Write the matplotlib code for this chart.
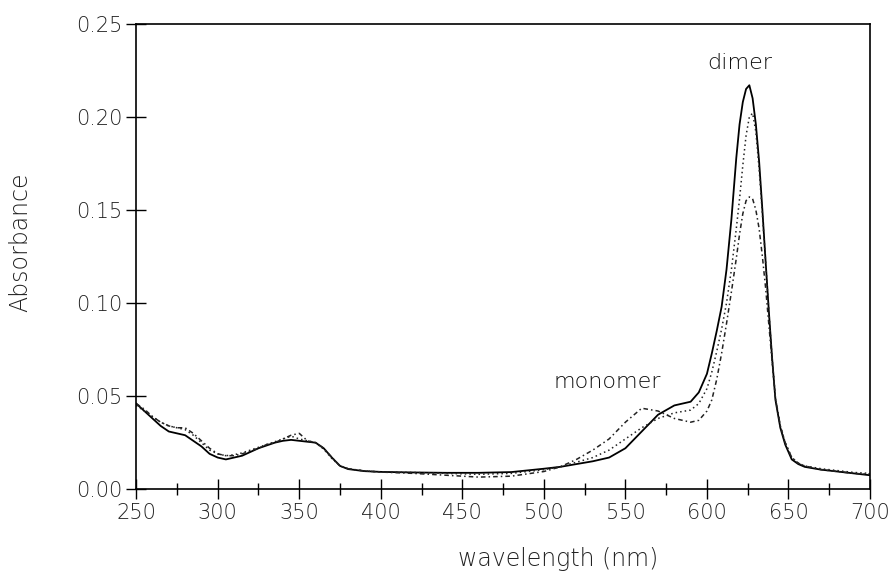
import numpy as np
import matplotlib.pyplot as plt
from matplotlib.ticker import MultipleLocator

# wavelength grid (nm)
wavelength = [250, 255, 260, 265, 270, 275, 280, 285, 290, 295, 300, 305, 310, 315,
              320, 325, 330, 335, 340, 345, 350, 355, 360, 365, 370, 375, 380, 390,
              400, 420, 440, 460, 480, 500, 510, 520, 530, 540, 550, 560, 570, 580,
              590, 595, 600, 603, 606, 609, 612, 615, 618, 620, 622, 624, 626, 628,
              630, 632, 634, 636, 638, 640, 642, 645, 648, 652, 656, 660, 670, 680,
              690, 700]

abs_solid = [0.046, 0.042, 0.038, 0.034, 0.031, 0.030, 0.029, 0.026, 0.023, 0.019,
             0.017, 0.016, 0.017, 0.018, 0.020, 0.022, 0.0235, 0.025, 0.026, 0.0265,
             0.026, 0.0255, 0.025, 0.022, 0.017, 0.0125, 0.0108, 0.0097, 0.0093, 0.009,
             0.0088, 0.0088, 0.0092, 0.011, 0.012, 0.0135, 0.015, 0.017, 0.022, 0.031,
             0.040, 0.045, 0.047, 0.052, 0.062, 0.073, 0.085, 0.098, 0.118, 0.145,
             0.178, 0.196, 0.208, 0.215, 0.217, 0.210, 0.196, 0.176, 0.150, 0.122,
             0.095, 0.070, 0.048, 0.033, 0.024, 0.016, 0.0135, 0.012, 0.0105, 0.0095,
             0.0085, 0.0075]

abs_dotted = [0.045, 0.042, 0.039, 0.036, 0.034, 0.033, 0.032, 0.029, 0.025, 0.021,
              0.019, 0.018, 0.0185, 0.0195, 0.021, 0.0225, 0.024, 0.0255, 0.027, 0.0285,
              0.027, 0.026, 0.025, 0.0215, 0.0165, 0.0125, 0.011, 0.0098, 0.0093, 0.009,
              0.0085, 0.008, 0.0085, 0.0105, 0.012, 0.0145, 0.017, 0.021, 0.027, 0.033,
              0.038, 0.041, 0.0425, 0.046, 0.054, 0.063, 0.074, 0.086, 0.100, 0.118,
              0.140, 0.156, 0.174, 0.190, 0.200, 0.202, 0.192, 0.172, 0.148, 0.122,
              0.095, 0.070, 0.049, 0.034, 0.025, 0.017, 0.014, 0.0125, 0.011, 0.010,
              0.009, 0.0085]

abs_dashdot = [0.046, 0.043, 0.039, 0.036, 0.034, 0.033, 0.033, 0.030, 0.026, 0.022,
               0.019, 0.018, 0.018, 0.019, 0.0205, 0.022, 0.024, 0.025, 0.027, 0.029,
               0.030, 0.026, 0.025, 0.022, 0.017, 0.0125, 0.011, 0.0098, 0.0092, 0.0085,
               0.0075, 0.0065, 0.007, 0.0095, 0.012, 0.016, 0.021, 0.027, 0.036, 0.0435,
               0.042, 0.038, 0.036, 0.037, 0.042, 0.048, 0.059, 0.073, 0.089, 0.106,
               0.124, 0.137, 0.148, 0.155, 0.157, 0.156, 0.150, 0.140, 0.125, 0.108,
               0.088, 0.068, 0.049, 0.034, 0.025, 0.017, 0.014, 0.0125, 0.0105, 0.0095,
               0.0085, 0.008]

plt.rcParams['font.family'] = ['DejaVu Sans']
plt.rcParams['font.weight'] = 'light'
plt.rcParams['axes.labelweight'] = 'light'

fig = plt.figure(figsize=(8.96, 5.81), dpi=100)
ax = fig.add_axes([0.152, 0.158, 0.819, 0.801])

ax.plot(wavelength, abs_solid, color='black', lw=1.3, ls='-')
ax.plot(wavelength, abs_dotted, color='#222222', lw=1.1, ls=(0, (1, 2)))
ax.plot(wavelength, abs_dashdot, color='#222222', lw=1.1, ls=(0, (3, 2, 1, 2)))

ax.set_xlim(250, 700)
ax.set_ylim(0, 0.25)
ax.xaxis.set_major_locator(MultipleLocator(50))
ax.xaxis.set_minor_locator(MultipleLocator(25))
ax.yaxis.set_major_locator(MultipleLocator(0.05))
ax.yaxis.set_major_formatter(plt.FuncFormatter(lambda v, p: f'{v:.2f}'))

ax.tick_params(which='major', direction='inout', length=14, width=1.0,
               labelsize=15, labelcolor='#222222', pad=3, top=False, right=False)
ax.tick_params(which='minor', direction='inout', length=8, width=1.0,
               top=False, right=False)
for s in ax.spines.values():
    s.set_linewidth(1.2)

ax.set_xlabel('wavelength (nm)', fontsize=17, color='#222222', fontweight='light')
ax.xaxis.set_label_coords(0.575, -0.125)
ax.set_ylabel('Absorbance', fontsize=17, color='#222222', fontweight='light')
ax.yaxis.set_label_coords(-0.142, 0.53)

ax.text(539, 0.0575, 'monomer', fontsize=16, color='#111111', ha='center', va='center')
ax.text(620, 0.229, 'dimer', fontsize=16, color='#111111', ha='center', va='center')

fig.savefig('out.png', dpi=100)
